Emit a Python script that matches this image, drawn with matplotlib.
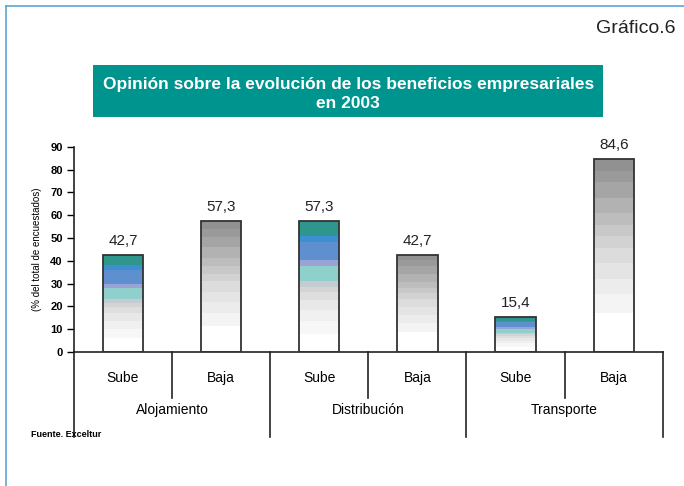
import matplotlib
matplotlib.use('Agg')
import matplotlib.pyplot as plt
from matplotlib.lines import Line2D
from matplotlib.patches import Rectangle
import numpy as np

plt.rcParams['font.family'] = ['Liberation Sans', 'DejaVu Sans']

# data
groups = ['Alojamiento', 'Distribución', 'Transporte']
answers = ['Sube', 'Baja']
values = [42.7, 57.3, 57.3, 42.7, 15.4, 84.6]
value_labels = ['42,7', '57,3', '57,3', '42,7', '15,4', '84,6']
yticks = [0, 10, 20, 30, 40, 50, 60, 70, 80, 90]

# stepped fills (fraction of bar height from bottom, colour)
sube_bands = [
    (0.00, '#ffffff'), (0.14, '#f7f7f7'), (0.24, '#f0f0f0'), (0.32, '#e8e8e8'),
    (0.40, '#dedede'), (0.46, '#d4d4d4'), (0.50, '#c4ccd2'), (0.54, '#90d0cc'),
    (0.66, '#9aa4d4'), (0.70, '#5e90d0'), (0.84, '#3c90d2'), (0.89, '#2e968c'),
]
baja_bands = [
    (0.00, '#ffffff'), (0.20, '#f4f4f4'), (0.30, '#ececec'), (0.38, '#e4e4e4'),
    (0.46, '#dcdcdc'), (0.54, '#d2d2d2'), (0.60, '#c8c8c8'), (0.66, '#bdbdbd'),
    (0.72, '#b2b2b2'), (0.80, '#a5a5a5'), (0.88, '#9a9a9a'), (0.94, '#919191'),
]

fig = plt.figure(figsize=(6.84, 4.86), dpi=100)
ax = fig.add_axes([0.108, 0.276, 0.861, 0.422])

x = np.arange(len(values))
bar_w = 0.41
for i, v in enumerate(values):
    bands = sube_bands if i % 2 == 0 else baja_bands
    for k, (f0, col) in enumerate(bands):
        f1 = bands[k + 1][0] if k + 1 < len(bands) else 1.0
        ax.bar(x[i], v * (f1 - f0), bar_w, bottom=v * f0, color=col,
               linewidth=0, zorder=2)
    ax.bar(x[i], v, bar_w, facecolor='none', edgecolor='#333333',
           linewidth=1.3, zorder=3)
    ax.text(x[i], v + 3, value_labels[i], ha='center', va='bottom',
            fontsize=11, color='#222222')

ax.set_xlim(-0.5, len(values) - 0.5)
ax.set_ylim(0, 90)
ax.set_yticks(yticks)
ax.set_yticklabels([str(t) for t in yticks], fontsize=8, fontweight='bold')
ax.tick_params(axis='y', direction='out', length=5, width=1, pad=3)
ax.set_xticks([])
for s in ['top', 'right']:
    ax.spines[s].set_visible(False)
for s in ['left', 'bottom']:
    ax.spines[s].set_linewidth(1.2)
    ax.spines[s].set_color('#222222')
ax.set_ylabel('(% del total de encuestados)', fontsize=7, labelpad=6)

# two-level category axis below the plot
trans = ax.get_xaxis_transform()
for b in np.arange(len(values) + 1) - 0.5:
    depth = -0.415 if int(b + 0.5) % 2 == 0 else -0.224
    ax.add_line(Line2D([b, b], [0, depth], transform=trans, color='#222222',
                       linewidth=1.2, clip_on=False))
for i in range(len(values)):
    ax.text(x[i], -0.127, answers[i % 2], transform=trans, ha='center',
            va='center', fontsize=10)
for g, name in enumerate(groups):
    ax.text(2 * g + 0.5, -0.283, name, transform=trans, ha='center',
            va='center', fontsize=10)

fig.text(0.045, 0.105, 'Fuente. Exceltur', fontsize=6.5, fontweight='bold',
         ha='left', va='center')

# title box
fig.add_artist(Rectangle((0.136, 0.759), 0.746, 0.107, transform=fig.transFigure,
                         facecolor='#00948f', edgecolor='none'))
fig.text(0.509, 0.806, 'Opinión sobre la evolución de los beneficios empresariales\nen 2003',
         ha='center', va='center', fontsize=12.5, fontweight='bold', color='white',
         linespacing=1.3)

fig.text(0.988, 0.942, 'Gráfico.6', ha='right', va='center', fontsize=14,
         color='#222222')

# frame lines on top and left
fig.add_artist(Line2D([0.009, 1.0], [0.988, 0.988], color='#5aa6d6', linewidth=1.2))
fig.add_artist(Line2D([0.009, 0.009], [0.0, 0.988], color='#5aa6d6', linewidth=1.2))

fig.savefig('out.png', dpi=100)
